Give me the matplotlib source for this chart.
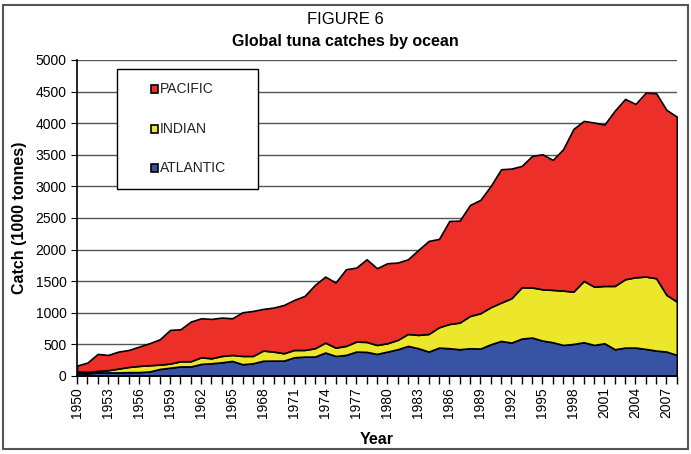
import matplotlib.pyplot as plt
import numpy as np
from matplotlib.patches import Rectangle

plt.rcParams['font.family'] = ['Liberation Sans', 'DejaVu Sans']

years = np.arange(1950, 2009)

# catches in 1000 tonnes
atlantic = [45, 40, 55, 55, 55, 60, 60, 70, 110, 130,
            150, 150, 190, 200, 215, 237, 185, 200, 240, 242,
            242, 295, 305, 306, 370, 316, 332, 385, 380, 348,
            385, 422, 475, 438, 385, 448, 438, 422, 438, 433,
            501, 554, 527, 591, 607, 559, 533, 490, 506, 533,
            490, 517, 422, 448, 448, 427, 401, 385, 332]
indian = [24, 24, 24, 35, 61, 82, 98, 99, 69, 65,
          82, 82, 105, 79, 101, 95, 131, 116, 161, 143,
          117, 116, 106, 132, 157, 132, 143, 158, 158, 142,
          132, 148, 189, 211, 279, 322, 384, 422, 511, 559,
          586, 606, 702, 812, 793, 812, 828, 860, 828, 970,
          923, 907, 1002, 1082, 1113, 1145, 1145, 897, 844]
pacific = [95, 147, 269, 242, 269, 269, 306, 348, 401, 533,
           506, 628, 617, 623, 607, 580, 691, 712, 659, 696,
           764, 792, 855, 1002, 1045, 1029, 1213, 1171, 1308, 1214,
           1266, 1224, 1182, 1345, 1472, 1398, 1630, 1613, 1757, 1793,
           1919, 2110, 2052, 1920, 2081, 2136, 2057, 2237, 2574, 2532,
           2596, 2553, 2774, 2853, 2743, 2911, 2927, 2927, 2927]

names = ['ATLANTIC', 'INDIAN', 'PACIFIC']
colors = ['#3953A4', '#ECE72A', '#EC3029']

W, H = 691, 454
fig = plt.figure(figsize=(W / 100, H / 100), dpi=100)
fig.patches.append(Rectangle((0.005, 0.01), 0.99, 0.98, transform=fig.transFigure,
                             fill=False, edgecolor='#555555', lw=1.5))

ax = fig.add_axes([0.1115, 0.172, 0.868, 0.696])
ax.set_axisbelow(True)
ax.yaxis.grid(True, color='#555555', lw=1.0)

ax.stackplot(years, atlantic, indian, pacific, colors=colors,
             edgecolor='black', linewidth=1.2)

ax.set_xlim(1950, 2008)
ax.set_ylim(0, 5000)
ax.set_yticks(np.arange(0, 5001, 500))
ax.set_xticks(np.arange(1950, 2008, 3))
ax.set_xticks(years, minor=True)
ax.tick_params(axis='x', which='both', direction='out', length=6, width=1)
ax.tick_params(axis='x', labelrotation=90, labelsize=10, pad=2)
ax.tick_params(axis='y', direction='out', length=4, labelsize=10)
for s in ['top', 'right']:
    ax.spines[s].set_visible(False)
ax.spines['left'].set_linewidth(1.2)
ax.spines['bottom'].set_linewidth(1.2)

ax.set_ylabel('Catch (1000 tonnes)', fontsize=11.5, fontweight='bold', labelpad=6)
ax.set_xlabel('Year', fontsize=11.5, fontweight='bold', labelpad=10)

fig.text(0.5, 0.958, 'FIGURE 6', ha='center', va='center', fontsize=12)
fig.text(0.5, 0.908, 'Global tuna catches by ocean', ha='center', va='center',
         fontsize=11.5, fontweight='bold')

# legend box, drawn in pixel positions
def fx(px):
    return px / W

def fy(py):
    return 1 - py / H

fig.patches.append(Rectangle((fx(117), fy(189)), fx(258) - fx(117), fy(69) - fy(189),
                             transform=fig.transFigure, facecolor='white',
                             edgecolor='black', lw=1.0, zorder=5))
for name, c, py in zip(names[::-1], colors[::-1], [89, 129, 168]):
    fig.patches.append(Rectangle((fx(151), fy(py + 4)), fx(158) - fx(151), fy(py - 4) - fy(py + 4),
                                 transform=fig.transFigure, facecolor=c,
                                 edgecolor='black', lw=1.2, zorder=6))
    fig.text(fx(160), fy(py), name, ha='left', va='center', fontsize=10,
             color='#222222', zorder=7)

fig.savefig('out.png', dpi=100)
